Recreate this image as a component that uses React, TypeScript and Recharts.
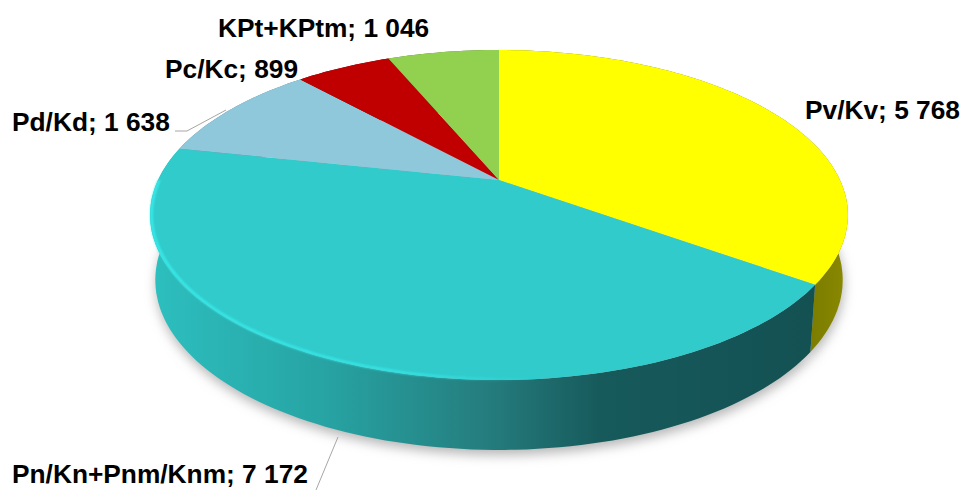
import { Pie, PieChart } from "recharts";

const categories = ["Pv/Kv", "Pn/Kn+Pnm/Knm", "Pd/Kd", "Pc/Kc", "KPt+KPtm"];
const values = [5768, 7172, 1638, 899, 1046];
const topColors = ["#FFFF00", "#31CBCB", "#90C8DB", "#C00000", "#92D050"];
const sideColors = ["url(#sideYellow)", "url(#sideTeal)", "#4d7f90", "#700000", "#55782f"];

const data = categories.map((name, i) => ({ name, value: values[i], top: topColors[i], side: sideColors[i] }));

// where each label sits, [left, baseline]
const labelSpots: Record<string, [number, number]> = {
  "Pv/Kv": [805, 119],
  "Pn/Kn+Pnm/Knm": [12, 483],
  "Pd/Kd": [12, 131],
  "Pc/Kc": [165, 78],
  "KPt+KPtm": [218, 37],
};

const leaders: Record<string, string> = {
  "Pn/Kn+Pnm/Knm": "M338 437L316 490",
  "Pd/Kd": "M175 131L187 131L226 110",
};

// the pie lies tilted, so the circle from the library is pushed through a small perspective
const TILT = 0.462;
const PERSP = 0.212;
const RAD = Math.PI / 180;

function project(cx: number, cy: number, r: number, deg: number, lower = false, scale = 1) {
  const u = Math.cos(deg * RAD) * scale;
  const v = Math.sin(deg * RAD) * scale;
  const k = 1 / (1 + PERSP * v);
  const x = r * u * k;
  const y = -r * TILT * v * k;
  if (lower) return [cx + x * 0.985, cy + 64 + y * 1.03];
  return [cx + x, cy + y];
}

function arc(cx: number, cy: number, r: number, a: number, b: number, lower = false, scale = 1) {
  const steps = Math.max(2, Math.ceil(Math.abs(b - a) / 1.5));
  const pts: string[] = [];
  for (let i = 0; i <= steps; i++) {
    const p = project(cx, cy, r, a + ((b - a) * i) / steps, lower, scale);
    pts.push(`${p[0].toFixed(1)} ${p[1].toFixed(1)}`);
  }
  return pts;
}

function TopShape(props: any) {
  const { cx, cy, outerRadius, startAngle, endAngle, payload } = props;
  const pts = arc(cx, cy, outerRadius, startAngle, endAngle);
  const isTeal = payload.name === "Pn/Kn+Pnm/Knm";
  return (
    <g>
      <path d={`M${cx} ${cy}L${pts.join("L")}Z`} fill={payload.top} />
      {isTeal && (
        <path
          d={`M${arc(cx, cy, outerRadius, endAngle + 12, startAngle + 14, false, 0.996).join("L")}`}
          fill="none"
          stroke="url(#rimTeal)"
          strokeWidth={2.5}
          filter="url(#soft)"
        />
      )}
    </g>
  );
}

function SideShape(props: any) {
  const { cx, cy, outerRadius, startAngle, endAngle, payload } = props;
  const up = arc(cx, cy, outerRadius, startAngle, endAngle);
  const low = arc(cx, cy, outerRadius, endAngle, startAngle, true);
  return <path d={`M${up.join("L")}L${low.join("L")}Z`} fill={payload.side} />;
}

function ShadowShape(props: any) {
  const { cx, cy, outerRadius, startAngle, endAngle } = props;
  const low = arc(cx + 1, cy + 5, outerRadius, startAngle, endAngle, true);
  return <path d={`M${cx} ${cy + 69}L${low.join("L")}Z`} fill="#b5b5b5" filter="url(#shadowBlur)" />;
}

function SliceLabel(props: any) {
  const { name, value } = props;
  const spot = labelSpots[name];
  const shown = String(value).replace(/\B(?=(\d{3})+$)/g, " ");
  return (
    <g>
      {leaders[name] && <path d={leaders[name]} fill="none" stroke="#a6a6a6" strokeWidth={1} />}
      <text
        x={spot[0]}
        y={spot[1]}
        fontFamily="Liberation Sans, Arial, sans-serif"
        fontSize={26.3}
        fontWeight="bold"
        fill="#000000"
      >
        {`${name}; ${shown}`}
      </text>
    </g>
  );
}

export default function App() {
  const pieProps = {
    data,
    dataKey: "value",
    nameKey: "name",
    cx: 499,
    cy: 180,
    outerRadius: 341,
    startAngle: 90,
    endAngle: -270,
    stroke: "none",
    isAnimationActive: false,
  };
  return (
    <div style={{ position: "absolute", left: 0, top: 0, width: 963, height: 490, background: "#fff" }}>
      <PieChart width={963} height={490} margin={{ top: 0, right: 0, bottom: 0, left: 0 }}>
        <defs>
          <linearGradient id="sideTeal" gradientUnits="userSpaceOnUse" x1="150" y1="0" x2="830" y2="0">
            <stop offset="0" stopColor="#2DBFBF" />
            <stop offset="0.26" stopColor="#27A3A3" />
            <stop offset="0.5" stopColor="#257C7D" />
            <stop offset="0.66" stopColor="#175A5C" />
            <stop offset="1" stopColor="#135052" />
          </linearGradient>
          <linearGradient id="sideYellow" gradientUnits="userSpaceOnUse" x1="805" y1="0" x2="850" y2="0">
            <stop offset="0" stopColor="#7A7A00" />
            <stop offset="1" stopColor="#8A8A00" />
          </linearGradient>
          <linearGradient id="rimTeal" gradientUnits="userSpaceOnUse" x1="150" y1="0" x2="540" y2="0">
            <stop offset="0" stopColor="#38EEEE" />
            <stop offset="0.65" stopColor="#38EEEE" stopOpacity={0.75} />
            <stop offset="1" stopColor="#38EEEE" stopOpacity={0} />
          </linearGradient>
          <filter id="soft" x="-5%" y="-5%" width="110%" height="110%">
            <feGaussianBlur stdDeviation="1.1" />
          </filter>
          <filter id="shadowBlur" filterUnits="userSpaceOnUse" x="100" y="0" width="800" height="490">
            <feGaussianBlur stdDeviation="6" />
          </filter>
        </defs>
        <Pie {...pieProps} shape={ShadowShape} label={false} labelLine={false} />
        <Pie {...pieProps} shape={SideShape} label={false} labelLine={false} />
        <Pie {...pieProps} shape={TopShape} label={SliceLabel} labelLine={false} />
      </PieChart>
    </div>
  );
}
